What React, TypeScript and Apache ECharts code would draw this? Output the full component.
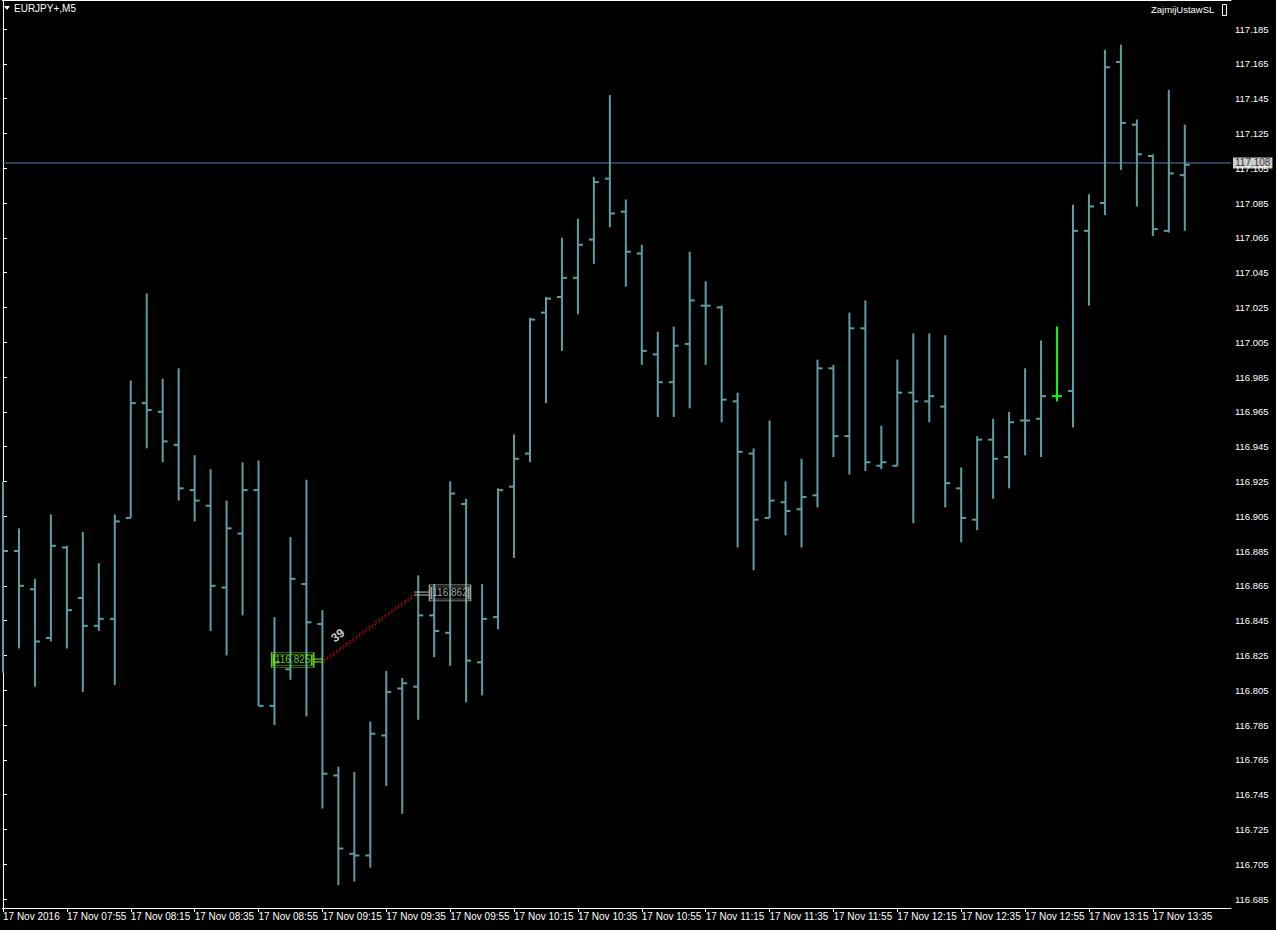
import React, { useEffect, useRef } from "react";
import * as echarts from "echarts";

// ---- Data (EURJPY+, M5, 17 Nov 2016, bars 07:35 .. 13:45) ----
const opens = [
  116.880, 116.885, 116.863, 116.835, 116.887, 116.858, 116.842, 116.846, 116.904, 116.970,
  116.965, 116.946, 116.920, 116.911, 116.864, 116.895, 116.920, 116.796, 116.817, 116.866,
  116.843, 116.756, 116.711, 116.710, 116.779, 116.806, 116.807, 116.848, 116.838, 116.912,
  116.821, 116.847, 116.922, 116.941, 117.022, 117.031, 117.042, 117.064, 117.099, 117.080,
  117.056, 116.998, 116.982, 117.004, 117.026, 117.025, 116.971, 116.941, 116.904, 116.913,
  116.909, 116.917, 116.990, 116.951, 117.013, 116.934, 116.934, 116.976, 116.971, 116.968,
  116.921, 116.903, 116.949, 116.939, 116.960, 116.961, 116.974, 116.977, 117.069, 117.085,
  117.166, 117.130, 117.112, 117.069, 117.101,
];
const highs = [
  116.925, 116.898, 116.869, 116.906, 116.888, 116.896, 116.878, 116.906, 116.983, 117.033,
  116.984, 116.990, 116.940, 116.932, 116.914, 116.936, 116.937, 116.847, 116.893, 116.926,
  116.851, 116.761, 116.758, 116.787, 116.816, 116.812, 116.871, 116.866, 116.925, 116.915,
  116.866, 116.921, 116.952, 117.019, 117.031, 117.065, 117.076, 117.100, 117.147, 117.087,
  117.061, 117.011, 117.014, 117.057, 117.040, 117.026, 116.976, 116.944, 116.960, 116.925,
  116.938, 116.995, 116.992, 117.022, 117.029, 116.957, 116.995, 117.010, 117.010, 117.009,
  116.933, 116.951, 116.961, 116.965, 116.990, 117.006, 117.014, 117.084, 117.090, 117.173,
  117.176, 117.133, 117.113, 117.150, 117.130,
];
const lows = [
  116.815, 116.829, 116.807, 116.833, 116.829, 116.804, 116.839, 116.808, 116.904, 116.944,
  116.936, 116.914, 116.902, 116.839, 116.825, 116.848, 116.796, 116.785, 116.811, 116.790,
  116.737, 116.693, 116.695, 116.703, 116.750, 116.734, 116.788, 116.824, 116.819, 116.798,
  116.802, 116.840, 116.881, 116.936, 116.970, 117.000, 117.021, 117.050, 117.071, 117.037,
  116.992, 116.962, 116.962, 116.967, 116.992, 116.959, 116.887, 116.874, 116.904, 116.894,
  116.887, 116.910, 116.939, 116.929, 116.931, 116.932, 116.934, 116.901, 116.959, 116.910,
  116.890, 116.897, 116.915, 116.921, 116.940, 116.939, 116.971, 116.956, 117.026, 117.078,
  117.104, 117.083, 117.066, 117.068, 117.069,
];
const closes = [
  116.885, 116.865, 116.833, 116.888, 116.851, 116.842, 116.846, 116.902, 116.970, 116.966,
  116.948, 116.921, 116.914, 116.865, 116.898, 116.920, 116.796, 116.821, 116.869, 116.844,
  116.757, 116.714, 116.710, 116.780, 116.804, 116.809, 116.848, 116.839, 116.918, 116.822,
  116.846, 116.920, 116.938, 117.018, 117.030, 117.042, 117.061, 117.097, 117.079, 117.057,
  117.000, 116.982, 117.003, 117.029, 117.026, 116.972, 116.942, 116.903, 116.914, 116.908,
  116.916, 116.990, 116.951, 117.013, 116.936, 116.936, 116.976, 116.971, 116.974, 116.924,
  116.904, 116.949, 116.938, 116.959, 116.960, 116.974, 116.974, 117.069, 117.083, 117.163,
  117.131, 117.113, 117.070, 117.102, 117.107,
];
const highlightedBar = 66; // bar drawn in green

const xTickIndices = [0, 4, 8, 12, 16, 20, 24, 28, 32, 36, 40, 44, 48, 52, 56, 60, 64, 68, 72];
const xTickLabels = [
  "17 Nov 2016", "17 Nov 07:55", "17 Nov 08:15", "17 Nov 08:35", "17 Nov 08:55",
  "17 Nov 09:15", "17 Nov 09:35", "17 Nov 09:55", "17 Nov 10:15", "17 Nov 10:35",
  "17 Nov 10:55", "17 Nov 11:15", "17 Nov 11:35", "17 Nov 11:55", "17 Nov 12:15",
  "17 Nov 12:35", "17 Nov 12:55", "17 Nov 13:15", "17 Nov 13:35",
];
const yTicks = [
  116.685, 116.705, 116.725, 116.745, 116.765, 116.785, 116.805, 116.825, 116.845, 116.865,
  116.885, 116.905, 116.925, 116.945, 116.965, 116.985, 117.005, 117.025, 117.045, 117.065,
  117.085, 117.105, 117.125, 117.145, 117.165, 117.185,
];
const currentPrice = 117.108;

// Annotation objects (data space)
const trendLineA = [[20.06, 116.8221], [25.79, 116.8606]];
const trendLineB = [[20.06, 116.8208], [25.79, 116.8593]];
const startLevel = { k: 18.14, price: 116.8224, text: "116.825" };
const endLevel = { k: 27.99, price: 116.8609, text: "116.862" };
const startLinks = [
  [[19.46, 116.8229], [20.02, 116.8229]],
  [[19.46, 116.8212], [20.02, 116.8212]],
];
const endLinks = [
  [[25.77, 116.8614], [26.71, 116.8614]],
  [[25.77, 116.8597], [26.71, 116.8597]],
];
const trendLabel = { k: 20.96, price: 116.8365, text: "39" };

const FONT = "'Liberation Sans', Arial, sans-serif";
const NARROW = "'Liberation Sans Narrow', 'Liberation Sans', Arial, sans-serif";
const BAR_COLOR = "#5F9EA0";
const HI_COLOR = "#00FF00";
const PRICE_LINE = "#4682B4";

export default function App() {
  const ref = useRef<HTMLDivElement>(null);

  useEffect(() => {
    if (!ref.current) return;
    const chart = echarts.init(ref.current, null, { renderer: "svg" });

    const ohlc = opens.map((o, i) => [i, o, highs[i], lows[i], closes[i]]);
    const xMin = -0.04375;
    const xMax = 76.894;
    const yMin = 116.6798276;
    const yMax = 117.2016667;

    const lineSeries = (data: number[][], color: string, type: any, z = 5) => ({
      type: "line",
      data,
      symbol: "none",
      silent: true,
      animation: false,
      lineStyle: { color, width: 1, type },
      z,
    });

    const boxSeries = (lv: any, size: number[], color: string, withLabel: boolean) => ({
      type: "scatter",
      data: [[lv.k, lv.price]],
      symbol: "rect",
      symbolSize: size,
      silent: true,
      itemStyle: { color: "rgba(0,0,0,0)", borderColor: color, borderWidth: 1 },
      label: withLabel
        ? {
            show: true,
            position: "inside",
            formatter: lv.text,
            color,
            fontSize: 10,
            fontFamily: FONT,
          }
        : { show: false },
      z: 6,
    });

    const option: any = {
      animation: false,
      backgroundColor: "#000000",
      textStyle: { fontFamily: FONT },
      grid: { left: 0, top: 0, width: 1231, height: 908, show: false },
      xAxis: [
        {
          type: "value",
          min: xMin,
          max: xMax,
          position: "bottom",
          axisLine: { show: true, lineStyle: { color: "#ffffff", width: 1 } },
          axisTick: {
            show: true,
            customValues: xTickIndices,
            length: 4,
            lineStyle: { color: "#ffffff" },
          },
          axisLabel: {
            show: true,
            customValues: xTickIndices,
            formatter: (v: number) => {
              const i = xTickIndices.indexOf(Math.round(v));
              return i >= 0 ? xTickLabels[i] : "";
            },
            align: "left",
            color: "#ffffff",
            fontSize: 10,
            fontFamily: NARROW,
            margin: 3,
          },
          splitLine: { show: false },
        },
        {
          type: "value",
          min: xMin,
          max: xMax,
          position: "top",
          axisLine: { show: true, lineStyle: { color: "#ffffff", width: 1 } },
          axisTick: { show: false },
          axisLabel: { show: false },
          splitLine: { show: false },
        },
      ],
      yAxis: {
        type: "value",
        min: yMin,
        max: yMax,
        position: "right",
        axisLine: { show: true, lineStyle: { color: "#ffffff", width: 1 } },
        axisTick: {
          show: true,
          customValues: yTicks,
          length: 4,
          lineStyle: { color: "#ffffff" },
        },
        axisLabel: {
          show: true,
          customValues: yTicks,
          formatter: (v: number) => v.toFixed(3),
          color: "#ffffff",
          fontSize: 9.5,
          fontFamily: FONT,
          margin: 4,
        },
        splitLine: { show: false },
      },
      series: [
        // current price line
        lineSeries([[xMin, currentPrice], [xMax, currentPrice]], PRICE_LINE, "solid", 2),
        {
          type: "custom",
          data: ohlc,
          encode: { x: 0, y: [1, 2, 3, 4] },
          clip: true,
          silent: true,
          z: 3,
          renderItem: (params: any, api: any) => {
            const k = api.value(0);
            const o = api.coord([k, api.value(1)]);
            const h = api.coord([k, api.value(2)]);
            const l = api.coord([k, api.value(3)]);
            const c = api.coord([k, api.value(4)]);
            const x = o[0];
            const stroke = k === highlightedBar ? HI_COLOR : BAR_COLOR;
            const style = { stroke, lineWidth: 2 };
            return {
              type: "group",
              children: [
                { type: "line", shape: { x1: x, y1: h[1], x2: x, y2: l[1] }, style },
                { type: "line", shape: { x1: x - 5, y1: o[1], x2: x, y2: o[1] }, style },
                { type: "line", shape: { x1: x, y1: c[1], x2: x + 5, y2: c[1] }, style },
              ],
            };
          },
        },
        lineSeries(trendLineA, "#ff0000", [2, 2]),
        lineSeries(trendLineB, "#ff0000", [2, 2]),
        lineSeries(startLinks[0], "#7CFC00", "solid"),
        lineSeries(startLinks[1], "#7CFC00", "solid"),
        lineSeries(endLinks[0], "#C0C0C0", "solid"),
        lineSeries(endLinks[1], "#C0C0C0", "solid"),
        boxSeries(startLevel, [42, 15], "#7CFC00", true),
        boxSeries(startLevel, [38, 11], "#7CFC00", false),
        boxSeries(endLevel, [41, 16], "#C8C8C8", true),
        boxSeries(endLevel, [37, 12], "#C8C8C8", false),
        {
          type: "scatter",
          data: [[trendLabel.k, trendLabel.price]],
          symbolSize: 0,
          silent: true,
          label: {
            show: true,
            position: "inside",
            formatter: trendLabel.text,
            color: "#ffffff",
            fontSize: 12,
            fontWeight: "bold",
            rotate: 38,
          },
          z: 7,
        },
        // current price tag on the price scale
        {
          type: "scatter",
          data: [[xMax, currentPrice]],
          symbolSize: 0,
          silent: true,
          clip: false,
          label: {
            show: true,
            position: "right",
            distance: 2,
            formatter: currentPrice.toFixed(3),
            backgroundColor: "#ffffff",
            color: "#000000",
            fontSize: 10,
            fontFamily: FONT,
            padding: [1, 2, 0, 2],
          },
          z: 10,
        },
      ],
      graphic: [
        {
          type: "polygon",
          shape: { points: [[4, 6], [10, 6], [7, 10]] },
          style: { fill: "#ffffff" },
        },
        {
          type: "text",
          left: 14,
          top: 3,
          style: { text: "EURJPY+,M5", fill: "#ffffff", fontSize: 10, fontFamily: FONT },
        },
        {
          type: "text",
          left: 1151,
          top: 4,
          style: { text: "ZajmijUstawSL", fill: "#ffffff", fontSize: 9.5, fontFamily: FONT },
        },
        {
          type: "rect",
          shape: { x: 1222.5, y: 4.5, width: 4, height: 11 },
          style: { fill: "none", stroke: "#ffffff", lineWidth: 1 },
        },
      ],
    };

    chart.setOption(option);
    return () => chart.dispose();
  }, []);

  return (
    <div
      ref={ref}
      style={{
        position: "absolute",
        left: 0,
        top: 0,
        width: 1276,
        height: 930,
        background: "#000000",
      }}
    />
  );
}
